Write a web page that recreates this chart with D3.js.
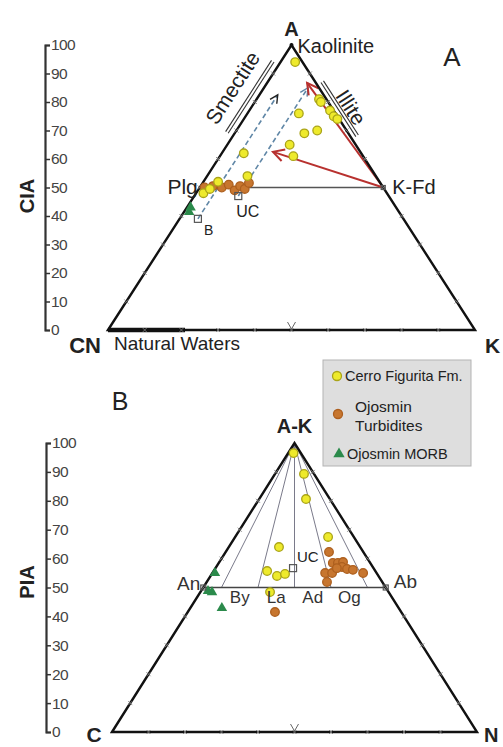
<!DOCTYPE html>
<html><head><meta charset="utf-8">
<script src="https://cdn.jsdelivr.net/npm/d3@7"></script>
<style>
body{margin:0;background:#fff}
text{font-family:Arial,"Liberation Sans",Helvetica,sans-serif}
</style>
</head><body>
<svg id="chart" width="503" height="747"></svg>
<script>
// ---------- data ----------
const indexTicks = [0,10,20,30,40,50,60,70,80,90,100];

// Panel A: molar proportions [A, CN, K]
const cerroA = [[94,2,4],[81,2,17],[80,2,18],[77,1,22],[75,1,24],[74,0.5,25.5],
  [76,10,14],[69,12,19],[70,8,22],[65,18,17],[61,19,20],[62,32,6],[54,35,11],
  [52,44,4],[48,50,2],[49.5,47.5,3]];
const turbA = [[50,48.7,1.3],[50.5,46.15,3.35],[50,44,6],[51,41.6,7.4],[49,41,10],
  [50.5,38.75,10.75],[49.5,38,12.5],[51.6,35.8,12.6]];
const morbA = [[43,56,1],[41.4,57.2,1.4]];
const refNamesA = ["UC","B"];
const refA = [[47,41,12],[39,56,5]];
const feldsparA = [[50,50,0],[50,0,50]];          // Plg, K-Fd
const kfdTrendEnds = [[86.7,2.4,10.9],[62.5,23.8,13.7]];
const rockTrends = [[[39,56,5],[82.5,12.5,5]],[[47,41,12],[85,3,12]]];

// Panel B: molar proportions [A-K, C, N]
const cerroB = [[96.5,2,1.5],[89.3,2.75,7.95],[80.6,6.55,12.85],[67.5,7.05,25.45],
  [64,22.25,13.75],[55.7,29.65,14.65],[54,27.8,18.2],[54.7,25.25,20.05],[48.4,32.5,19.1]];
const turbB = [[62.3,9.4,28.3],[58.5,10.25,31.25],[58.5,8.85,32.65],[58.8,7.3,33.9],
  [57.1,8.45,34.45],[56.4,7.4,36.2],[56.1,5.95,37.95],[55,3.7,41.3],[55,14.1,30.9],
  [55,12.2,32.8],[56.7,10.05,33.25],[51.9,15.15,32.95],[41.5,34.6,23.9]];
const morbB = [[55,44.3,0.7],[48.8,49.3,1.9],[48.4,48.4,3.2],[42.9,48.45,8.65]];
const ucB = [56.7,22.05,21.25];
const anorthiteBounds = [90,70,50,30,10];          // An % on the An-Ab join
const plagNames = ["By","La","Ad","Og"];
const plagMids = [80,60,40,20];

const legendLabels = [["Cerro Figurita Fm."],["Ojosmin","Turbidites"],["Ojosmin MORB"]];

// ---------- helpers ----------
const svg = d3.select("#chart");
const font = "Arial,'Liberation Sans',sans-serif";

function panel(x0, x1, yBase, yTop) {
  const xs = d3.scaleLinear().domain([0,100]).range([x0, x1]);
  const ys = d3.scaleLinear().domain([0,100]).range([yBase, yTop]);
  // p = [apex, left, right]
  const pos = p => { const s = p[0]+p[1]+p[2]; const a = p[0]/s*100, r = p[2]/s*100;
    return [xs(r + a/2), ys(a)]; };
  return {xs, ys, pos};
}

const pA = panel(108, 475, 330, 45);
const pB = panel(112, 477, 732, 443);

const YEL = {fill:"#eeea2c", stroke:"#aaa418"};
const ORA = {fill:"#c7762f", stroke:"#ad5f1e"};
const GRN = "#2b8a4b";

function circles(g, P, data, c) {
  g.selectAll(null).data(data).enter().append("circle")
    .attr("cx", d => P.pos(d)[0]).attr("cy", d => P.pos(d)[1]).attr("r", 4.3)
    .attr("fill", c.fill).attr("stroke", c.stroke).attr("stroke-width", 1.3);
}
function triangles(g, P, data) {
  g.selectAll(null).data(data).enter().append("path")
    .attr("d", d3.symbol().type(d3.symbolTriangle).size(48))
    .attr("transform", d => `translate(${P.pos(d)[0]},${P.pos(d)[1]})`)
    .attr("fill", GRN);
}
function square(g, x, y, s) {
  g.append("rect").attr("x", x - s/2).attr("y", y - s/2).attr("width", s).attr("height", s)
    .attr("fill", "none").attr("stroke", "#555").attr("stroke-width", 1.2);
}
function label(g, x, y, t, size, opts = {}) {
  const el = g.append("text").attr("x", x).attr("y", y).text(t)
    .attr("font-size", size).attr("fill", opts.fill || "#222")
    .attr("font-weight", opts.bold ? "bold" : "normal")
    .attr("text-anchor", opts.anchor || "start");
  if (opts.rotate !== undefined) el.attr("transform", `rotate(${opts.rotate},${x},${y})`);
  return el;
}
function line(g, a, b, stroke, w, dash) {
  const l = g.append("line").attr("x1", a[0]).attr("y1", a[1]).attr("x2", b[0]).attr("y2", b[1])
    .attr("stroke", stroke).attr("stroke-width", w);
  if (dash) l.attr("stroke-dasharray", dash);
  return l;
}
function chevron(g, from, tip, stroke, w, len = 9, half = 5) {
  const dx = tip[0]-from[0], dy = tip[1]-from[1], L = Math.hypot(dx, dy);
  const ux = dx/L, uy = dy/L, nx = -uy, ny = ux;
  const p = d3.path();
  p.moveTo(tip[0]-len*ux+half*nx, tip[1]-len*uy+half*ny);
  p.lineTo(tip[0], tip[1]);
  p.lineTo(tip[0]-len*ux-half*nx, tip[1]-len*uy-half*ny);
  g.append("path").attr("d", p.toString()).attr("fill", "none")
    .attr("stroke", stroke).attr("stroke-width", w);
}
function edgeMarks(g, a, b) {
  for (let i = 1; i < 10; i++) {
    const x = a[0] + (b[0]-a[0])*i/10, y = a[1] + (b[1]-a[1])*i/10;
    g.append("path").attr("d", `M${x-2},${y-2}L${x+2},${y+2}M${x-2},${y+2}L${x+2},${y-2}`)
      .attr("stroke", "#777").attr("stroke-width", 0.9);
  }
  return [(a[0]+b[0])/2, (a[1]+b[1])/2];
}
function vMark(g, x, y) {
  g.append("path").attr("d", `M${x-4},${y-8}L${x},${y-1}L${x+4},${y-8}`)
    .attr("fill", "none").attr("stroke", "#666").attr("stroke-width", 1);
}
function indexAxis(g, P, x, title, titleY) {
  const ax = g.append("g").attr("transform", `translate(${x},0)`)
    .call(d3.axisRight(P.ys).tickValues(indexTicks).tickSize(5).tickSizeOuter(5).tickPadding(1));
  ax.select(".domain").attr("stroke", "#333").attr("stroke-width", 2.2);
  ax.selectAll(".tick line").attr("stroke", "#333").attr("stroke-width", 1.5);
  ax.selectAll(".tick text").attr("font-size", 15.5).attr("font-family", font)
    .attr("fill", "#444").attr("letter-spacing", -0.6);
  label(g, 34, titleY, title, 20, {bold: true, anchor: "middle", rotate: -90});
}
// point offset from an edge: t along (0..1), d perpendicular pixels
function edgePoint(a, b, t, d) {
  const dx = b[0]-a[0], dy = b[1]-a[1], L = Math.hypot(dx, dy);
  return [a[0]+dx*t + (-dy/L)*d, a[1]+dy*t + (dx/L)*d];
}

// ---------- Panel A: A-CN-K ----------
const gA = svg.append("g");
const A_ = pA.pos([100,0,0]), CN_ = pA.pos([0,100,0]), K_ = pA.pos([0,0,100]);
const plg = pA.pos(feldsparA[0]), kfd = pA.pos(feldsparA[1]);

indexAxis(gA, pA, 45, "CIA", 196);

// feldspar join
line(gA, plg, kfd, "#555", 1.6);

// rock weathering trends (dashed, parallel to A-CN)
rockTrends.forEach((t, i) => {
  const s = pA.pos(t[0]), e = pA.pos(t[1]);
  line(gA, s, e, "#5f86a6", 1.6, "5,3");
  chevron(gA, s, e, i === 0 ? "#222" : "#5f86a6", 1.4, 8, 4);
});

// K-feldspar weathering arrows
kfdTrendEnds.forEach(t => {
  const e = pA.pos(t);
  line(gA, kfd, e, "#b8312f", 2);
  chevron(gA, kfd, e, "#b8312f", 2, 11, 6);
});

// triangle outline
gA.append("path").attr("d", d3.line()([CN_, A_, K_]) + "Z")
  .attr("fill", "none").attr("stroke", "#111").attr("stroke-width", 2.4).attr("stroke-linejoin", "miter");
// natural waters segment on the base
line(gA, CN_, [CN_[0]+77, CN_[1]], "#111", 4.5);

edgeMarks(gA, CN_, A_);
edgeMarks(gA, A_, K_);
const midA = edgeMarks(gA, CN_, K_);
vMark(gA, midA[0], midA[1]);

// Smectite / Illite markers along the edges
[5.5, 8.5].forEach(d => line(gA, edgePoint(A_, CN_, 0.07, d), edgePoint(A_, CN_, 0.32, d), "#333", 1.1));
{
  const c = edgePoint(A_, CN_, 0.2, 19);
  label(gA, c[0], c[1], "Smectite", 21, {anchor: "middle", rotate: -57.3});
}
[-4.5, -7.5].forEach(d => line(gA, edgePoint(A_, K_, 0.14, d), edgePoint(A_, K_, 0.33, d), "#333", 1.1));
{
  const c = edgePoint(A_, K_, 0.235, -12);
  label(gA, c[0], c[1] + 6, "Illite", 21, {anchor: "middle", rotate: 57.3});
}

// samples
circles(gA, pA, turbA, ORA);
circles(gA, pA, cerroA, YEL);
triangles(gA, pA, morbA);

// reference compositions
refA.forEach(r => { const p = pA.pos(r); square(gA, p[0], p[1], 7); });
square(gA, kfd[0], kfd[1], 4);
gA.append("circle").attr("cx", A_[0]).attr("cy", A_[1]).attr("r", 2).attr("fill", "#111");

// labels
label(gA, A_[0], 36, "A", 20, {bold: true, anchor: "middle"});
label(gA, A_[0] + 6, 53, "Kaolinite", 20);
label(gA, 452, 66, "A", 26, {anchor: "middle"});
label(gA, plg[0] - 2, 194, "Plg", 21, {anchor: "end"});
label(gA, kfd[0] + 9, 194, "K-Fd", 20);
{ const u = pA.pos(refA[0]); label(gA, u[0] - 2, u[1] + 21, refNamesA[0], 16); }
{ const b = pA.pos(refA[1]); label(gA, b[0] + 6, b[1] + 16, refNamesA[1], 14); }
label(gA, 101, 353, "CN", 22, {bold: true, anchor: "end"});
label(gA, 114, 350, "Natural Waters", 19);
label(gA, 485, 353, "K", 21, {bold: true});

// ---------- legend ----------
const gL = svg.append("g");
gL.append("rect").attr("x", 323).attr("y", 360).attr("width", 148).attr("height", 106)
  .attr("fill", "#dedede").attr("stroke", "#b3b3b3").attr("stroke-width", 1);
gL.append("circle").attr("cx", 337).attr("cy", 376).attr("r", 4.5).attr("fill", YEL.fill).attr("stroke", YEL.stroke).attr("stroke-width", 1.3);
label(gL, 345, 381, legendLabels[0][0], 14.5);
gL.append("circle").attr("cx", 338).attr("cy", 414).attr("r", 4.5).attr("fill", ORA.fill).attr("stroke", ORA.stroke).attr("stroke-width", 1.3);
label(gL, 355, 412, legendLabels[1][0], 15.5);
label(gL, 355, 431, legendLabels[1][1], 15.5);
gL.append("path").attr("d", d3.symbol().type(d3.symbolTriangle).size(56)).attr("transform", "translate(339,454)").attr("fill", GRN);
label(gL, 347, 459, legendLabels[2][0], 14.5);

// ---------- Panel B: A-K / C / N ----------
const gB = svg.append("g");
const AK = pB.pos([100,0,0]), C_ = pB.pos([0,100,0]), N_ = pB.pos([0,0,100]);
const an = pB.pos([50,50,0]), ab = pB.pos([50,0,50]);

label(gB, 120, 410, "B", 25, {anchor: "middle"});
indexAxis(gB, pB, 46, "PIA", 582);

// plagioclase series boundaries radiating from A-K
anorthiteBounds.forEach(v => {
  const p = pB.pos([50, v/2, 50 - v/2]);
  line(gB, AK, p, "#7a7a8a", 1);
});
line(gB, an, ab, "#444", 1.4);

gB.append("path").attr("d", d3.line()([C_, AK, N_]) + "Z")
  .attr("fill", "none").attr("stroke", "#111").attr("stroke-width", 2.4);
edgeMarks(gB, C_, AK);
edgeMarks(gB, AK, N_);
const midB = edgeMarks(gB, C_, N_);
vMark(gB, midB[0], midB[1]);

circles(gB, pB, turbB, ORA);
circles(gB, pB, cerroB, YEL);
triangles(gB, pB, morbB);

{ const u = pB.pos(ucB); square(gB, u[0], u[1], 7); label(gB, u[0] + 4, u[1] - 6, "UC", 15); }
square(gB, an[0], an[1], 5);
square(gB, ab[0], ab[1], 5);

plagNames.forEach((n, i) => {
  const p = pB.pos([50, plagMids[i]/2, 50 - plagMids[i]/2]);
  label(gB, p[0], 603, n, 17, {anchor: "middle", fill: "#333"});
});
label(gB, an[0] - 3, 590, "An", 19, {anchor: "end", fill: "#333"});
label(gB, ab[0] + 8, 588, "Ab", 19, {fill: "#333"});
label(gB, AK[0], 433, "A-K", 20, {bold: true, anchor: "middle"});
label(gB, 94, 742, "C", 21, {bold: true, anchor: "middle"});
label(gB, 484, 742, "N", 20, {bold: true});
</script>
</body></html>
